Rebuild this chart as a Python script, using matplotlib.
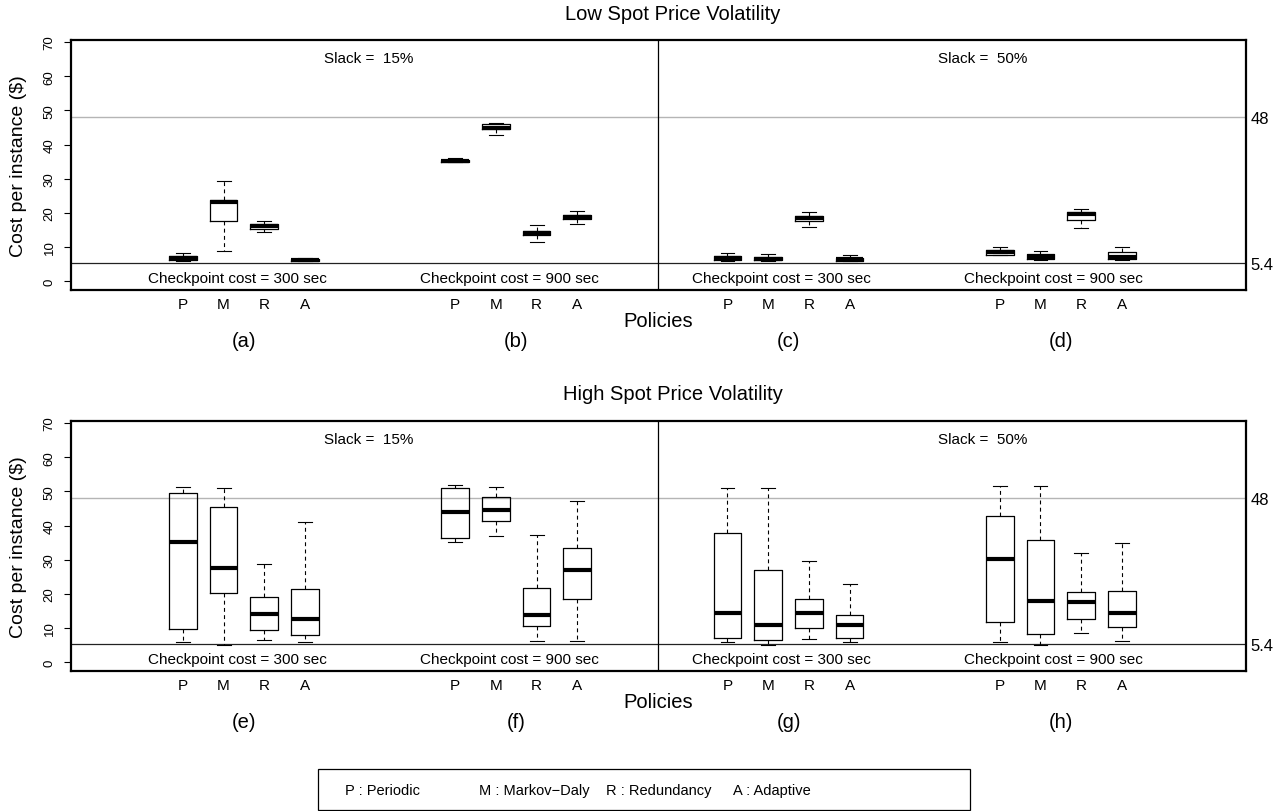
import matplotlib
matplotlib.use("Agg")
import matplotlib.pyplot as plt
from matplotlib.patches import Rectangle

plt.rcParams['font.family'] = ['Liberation Sans', 'DejaVu Sans']

# ---------------- data (whislo, q1, median, q3, whishi) per policy ----------------
policies = ['P', 'M', 'R', 'A']
legend_labels = ['P : Periodic', 'M : Markov\u2212Daly', 'R : Redundancy', 'A : Adaptive']
panel_letters_low = ['(a)', '(b)', '(c)', '(d)']
panel_letters_high = ['(e)', '(f)', '(g)', '(h)']
checkpoint_labels = ['Checkpoint cost = 300 sec', 'Checkpoint cost = 900 sec',
                     'Checkpoint cost = 300 sec', 'Checkpoint cost = 900 sec']
slack_labels = ['Slack =  15%', 'Slack =  50%']
ref_lines = [48, 5.4]
ref_labels = ['48', '5.4']

# Low volatility
panel_a = [(5.8, 6.2, 6.7, 7.3, 8.3), (8.7, 17.5, 23.3, 23.7, 29.3),
           (14.3, 15.4, 16.0, 16.7, 17.7), (5.8, 6.0, 6.3, 6.6, 6.9)]
panel_b = [(34.8, 35.0, 35.3, 35.6, 36.0), (42.8, 44.4, 44.9, 46.0, 46.4),
           (11.6, 13.5, 14.1, 14.8, 16.5), (16.6, 18.1, 18.8, 19.4, 20.6)]
panel_c = [(5.9, 6.2, 6.7, 7.3, 8.1), (5.9, 6.2, 6.6, 7.2, 7.8),
           (15.8, 17.5, 18.4, 19.1, 20.2), (5.8, 6.0, 6.4, 6.9, 7.6)]
panel_d = [(7.6, 7.7, 8.4, 9.1, 10.0), (6.1, 6.4, 7.1, 7.8, 8.9),
           (15.6, 18.0, 19.6, 20.2, 21.0), (6.3, 6.6, 7.0, 8.4, 9.9)]
# High volatility
panel_e = [(6.0, 9.8, 35.3, 49.5, 51.3), (5.1, 20.2, 27.7, 45.4, 51.0),
           (6.4, 9.5, 14.1, 19.2, 28.8), (5.9, 7.8, 12.5, 21.3, 41.1)]
panel_f = [(35.1, 36.3, 43.9, 51.0, 51.9), (36.8, 41.4, 44.5, 48.3, 51.3),
           (6.2, 10.7, 13.8, 21.6, 37.3), (6.3, 18.4, 27.0, 33.5, 47.2)]
panel_g = [(5.9, 7.2, 14.4, 37.9, 51.1), (5.1, 6.5, 10.9, 26.9, 51.1),
           (6.9, 10.0, 14.4, 18.5, 29.5), (5.9, 7.2, 10.9, 13.7, 22.9)]
panel_h = [(5.9, 11.8, 30.2, 42.9, 51.6), (5.1, 8.3, 17.8, 35.7, 51.5),
           (8.6, 12.6, 17.6, 20.4, 32.0), (6.2, 10.3, 14.4, 20.7, 35.0)]

low_groups = [panel_a, panel_b, panel_c, panel_d]
high_groups = [panel_e, panel_f, panel_g, panel_h]

# ---------------- layout ----------------
W, H = 1283, 812
GROUP_OFF = 6.69
XLIM = (-1.75, 27.12)
YLIM = (-2.6, 70.6)
DIVIDER = 12.67

fig = plt.figure(figsize=(W / 100, H / 100), dpi=100)
ax_l = 71 / W
ax_w = (1246 - 71) / W
ax_h = 250 / H
ax_top = fig.add_axes([ax_l, 1 - 291 / H, ax_w, ax_h])
ax_bot = fig.add_axes([ax_l, 1 - 672 / H, ax_w, ax_h])


def draw_panel(ax, groups, letters):
    stats, pos = [], []
    for g, grp in enumerate(groups):
        for k, (lo, q1, med, q3, hi) in enumerate(grp):
            stats.append(dict(whislo=lo, q1=q1, med=med, q3=q3, whishi=hi, fliers=[]))
            pos.append(1 + g * GROUP_OFF + k)
    ax.bxp(stats, positions=pos, widths=0.68, capwidths=0.34, showfliers=False,
           boxprops=dict(color='black', linewidth=0.9),
           medianprops=dict(color='black', linewidth=3.0, solid_capstyle='butt'),
           whiskerprops=dict(color='black', linewidth=0.8, linestyle=(0, (3.5, 3))),
           capprops=dict(color='black', linewidth=0.8),
           manage_ticks=False)
    ax.set_xlim(*XLIM)
    ax.set_ylim(*YLIM)
    ax.axhline(ref_lines[0], color='#b5b5b5', linewidth=1.0, zorder=0)
    ax.axhline(ref_lines[1], color='#222222', linewidth=0.9, zorder=0)
    ax.axvline(DIVIDER, color='black', linewidth=0.9)
    for s in ax.spines.values():
        s.set_linewidth(1.6)
    # y axis
    ax.set_yticks(range(0, 71, 10))
    ax.set_yticklabels([str(v) for v in range(0, 71, 10)], rotation=90, va='center', fontsize=9.5)
    ax.tick_params(axis='y', direction='out', length=5, width=0.8, pad=6)
    ax.set_ylabel('Cost per instance ($)', fontsize=14, labelpad=12)
    # x axis labels P M R A
    ax.set_xticks(pos)
    ax.set_xticklabels(policies * len(groups), fontsize=11)
    ax.tick_params(axis='x', length=0, pad=5)
    # right reference labels
    tw = ax.twinx()
    tw.set_ylim(*YLIM)
    tw.set_yticks(ref_lines)
    tw.set_yticklabels(ref_labels, fontsize=12)
    tw.tick_params(axis='y', length=0, pad=3)
    for s in tw.spines.values():
        s.set_visible(False)
    # annotations
    for g in range(len(groups)):
        cx = 1 + g * GROUP_OFF + 1.5
        ax.text(cx - 0.17, 0.9, checkpoint_labels[g], ha='center', va='center', fontsize=11)
        ax.text(cx, -0.204, letters[g], transform=ax.get_xaxis_transform(),
                ha='center', va='center', fontsize=14.5)
    ax.text(5.57, 65.2, slack_labels[0], ha='center', va='center', fontsize=11)
    ax.text(20.66, 65.2, slack_labels[1], ha='center', va='center', fontsize=11)
    ax.text(DIVIDER, -0.124, 'Policies', transform=ax.get_xaxis_transform(),
            ha='center', va='center', fontsize=14.5)


draw_panel(ax_top, low_groups, panel_letters_low)
draw_panel(ax_bot, high_groups, panel_letters_high)

fig.text(673 / W, 1 - 15 / H, 'Low Spot Price Volatility', ha='center', va='center', fontsize=14.5)
fig.text(673 / W, 1 - 395 / H, 'High Spot Price Volatility', ha='center', va='center', fontsize=14.5)

# legend box
fig.patches.append(Rectangle((318 / W, 1 - 811 / H), (970 - 318) / W, 41 / H,
                             transform=fig.transFigure, fill=False, edgecolor='black',
                             linewidth=0.9))
legend_x = [345, 479, 606, 733]
for lx, lab in zip(legend_x, legend_labels):
    fig.text(lx / W, 1 - 791 / H, lab, ha='left', va='center', fontsize=10.5)

fig.savefig('out.png', dpi=100)
